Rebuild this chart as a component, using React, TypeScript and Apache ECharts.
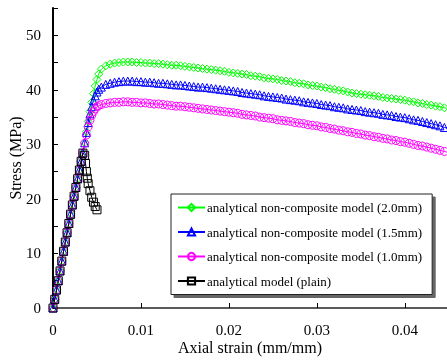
import React, { useEffect, useRef } from "react";
import * as echarts from "echarts";

const seriesNames = [
  "analytical non-composite model (2.0mm)",
  "analytical non-composite model (1.5mm)",
  "analytical non-composite model (1.0mm)",
  "analytical model (plain)",
];

const xTickLabels = ["0", "0.01", "0.02", "0.03", "0.04"];
const yTickLabels = ["0", "10", "20", "30", "40", "50"];

// shared linear rise
const strainRise = [0, 0.0002, 0.0004, 0.0006, 0.0008, 0.001, 0.0012, 0.0014, 0.0016, 0.0018, 0.002, 0.0022, 0.0024, 0.0026, 0.0028, 0.003, 0.0032, 0.0034];
const stressRise = [0, 1.6, 3.3, 5.0, 6.8, 8.6, 10.4, 12.1, 13.8, 15.5, 17.2, 18.9, 20.5, 22.1, 23.7, 25.3, 26.9, 28.4];

// transition toward peak
const strainPeak = [0.0036, 0.0038, 0.004, 0.0042, 0.0044, 0.0046, 0.0048, 0.005, 0.0052];
const stressPeak20 = [30.3, 32.3, 34.2, 36.0, 37.7, 39.3, 40.7, 41.9, 42.9];
const stressPeak15 = [30.3, 32.2, 34.0, 35.6, 36.9, 38.0, 38.9, 39.6, 40.1];
const stressPeak10 = [30.2, 31.7, 33.2, 34.4, 35.3, 36.0, 36.5, 36.9, 37.1];

// post-peak tail
const strainTail = [
  0.0055, 0.006, 0.0065, 0.007, 0.0075, 0.008, 0.0085, 0.009, 0.0095, 0.01,
  0.0105, 0.011, 0.0115, 0.012, 0.0125, 0.013, 0.0135, 0.014, 0.0145, 0.015,
  0.0155, 0.016, 0.0165, 0.017, 0.0175, 0.018, 0.0185, 0.019, 0.0195, 0.02,
  0.0205, 0.021, 0.0215, 0.022, 0.0225, 0.023, 0.0235, 0.024, 0.0245, 0.025,
  0.0255, 0.026, 0.0265, 0.027, 0.0275, 0.028, 0.0285, 0.029, 0.0295, 0.03,
  0.0305, 0.031, 0.0315, 0.032, 0.0325, 0.033, 0.0335, 0.034, 0.0345, 0.035,
  0.0355, 0.036, 0.0365, 0.037, 0.0375, 0.038, 0.0385, 0.039, 0.0395, 0.04,
  0.0405, 0.041, 0.0415, 0.042, 0.0425, 0.043, 0.0435, 0.044, 0.0445, 0.045,
];
const stressTail20 = [
  43.8, 44.4, 44.7, 44.9, 45.0, 45.1, 45.1, 45.1, 45.0, 45.0,
  44.9, 44.9, 44.8, 44.8, 44.7, 44.6, 44.5, 44.5, 44.4, 44.3,
  44.2, 44.1, 44.0, 43.9, 43.8, 43.7, 43.6, 43.5, 43.4, 43.2,
  43.1, 43.0, 42.9, 42.8, 42.6, 42.5, 42.4, 42.2, 42.1, 42.0,
  41.9, 41.7, 41.6, 41.5, 41.3, 41.2, 41.1, 40.9, 40.8, 40.7,
  40.5, 40.4, 40.2, 40.1, 39.9, 39.8, 39.6, 39.4, 39.3, 39.2,
  39.1, 39.0, 38.9, 38.8, 38.6, 38.5, 38.4, 38.3, 38.2, 38.1,
  37.9, 37.8, 37.6, 37.5, 37.3, 37.2, 37.0, 36.9, 36.7, 36.6,
];
const stressTail15 = [
  40.5, 41.0, 41.2, 41.4, 41.5, 41.6, 41.6, 41.6, 41.5, 41.5,
  41.4, 41.4, 41.3, 41.2, 41.2, 41.1, 41.0, 40.9, 40.9, 40.8,
  40.7, 40.6, 40.5, 40.5, 40.4, 40.3, 40.2, 40.1, 40.0, 39.9,
  39.8, 39.7, 39.5, 39.4, 39.3, 39.2, 39.1, 38.9, 38.8, 38.7,
  38.6, 38.5, 38.3, 38.2, 38.1, 38.0, 37.8, 37.7, 37.6, 37.5,
  37.3, 37.2, 37.1, 36.9, 36.8, 36.7, 36.5, 36.4, 36.3, 36.2,
  36.0, 35.9, 35.8, 35.7, 35.5, 35.4, 35.3, 35.1, 35.0, 34.9,
  34.7, 34.5, 34.4, 34.2, 34.0, 33.8, 33.6, 33.4, 33.1, 32.9,
];
const stressTail10 = [
  37.3, 37.5, 37.6, 37.7, 37.7, 37.8, 37.8, 37.7, 37.7, 37.6,
  37.6, 37.5, 37.4, 37.4, 37.3, 37.2, 37.1, 37.0, 37.0, 36.9,
  36.8, 36.7, 36.6, 36.5, 36.4, 36.3, 36.2, 36.1, 36.0, 35.9,
  35.8, 35.7, 35.5, 35.4, 35.3, 35.2, 35.0, 34.9, 34.8, 34.7,
  34.5, 34.4, 34.3, 34.2, 34.0, 33.9, 33.8, 33.6, 33.5, 33.4,
  33.2, 33.1, 32.9, 32.8, 32.6, 32.5, 32.3, 32.2, 32.0, 31.9,
  31.7, 31.6, 31.4, 31.3, 31.1, 31.0, 30.8, 30.7, 30.5, 30.4,
  30.2, 30.0, 29.8, 29.7, 29.5, 29.3, 29.1, 28.9, 28.7, 28.5,
];

// plain model softening branch
const strainPlainDrop = [0.0036, 0.0037, 0.0038, 0.0039, 0.004, 0.0042, 0.0044, 0.0046, 0.0048, 0.005];
const stressPlainDrop = [28.0, 26.5, 25.0, 23.8, 22.8, 21.5, 20.3, 19.4, 18.6, 18.0];

const zip = (xs: number[], ys: number[]) => xs.map((x, i) => [x, ys[i]]);

const FONT = "'Liberation Serif', 'Times New Roman', serif";

export default function App() {
  const ref = useRef<HTMLDivElement>(null);
  useEffect(() => {
    const chart = echarts.init(ref.current!, null, { renderer: "svg" });
    const mk = (name: string, color: string, symbol: string, size: number, data: number[][]) => ({
      name,
      type: "line",
      data,
      symbol,
      symbolSize: size,
      showSymbol: true,
      color,
      lineStyle: { color, width: 1 },
      itemStyle: { color: "rgba(0,0,0,0)", borderColor: color, borderWidth: 1 },
      clip: true,
    });
    const option = {
      animation: false,
      textStyle: { fontFamily: FONT, color: "#000" },
      grid: { left: 53, top: 8, right: 0, bottom: 53, containLabel: false, outerBoundsMode: "none" },
      legend: {
        orient: "vertical",
        left: 171,
        top: 194,
        width: 262,
        padding: [7, 10, 7, 6],
        itemGap: 11.5,
        itemWidth: 27,
        itemHeight: 9,
        backgroundColor: "#fff",
        borderColor: "#222",
        borderWidth: 1,
        shadowColor: "rgba(0,0,0,0.6)",
        shadowBlur: 0,
        shadowOffsetX: 3,
        shadowOffsetY: 3,
        textStyle: { fontFamily: FONT, fontSize: 13, color: "#000", padding: [0, 0, 0, -3] },
        data: seriesNames,
      },
      xAxis: [
        {
          type: "value",
          min: 0,
          max: 0.0448,
          interval: 0.01,
          name: "Axial strain (mm/mm)",
          nameLocation: "middle",
          nameGap: 31,
          nameMoveOverlap: false,
          nameTextStyle: { fontFamily: FONT, fontSize: 16, color: "#000" },
          axisLine: { show: true, onZero: false, lineStyle: { color: "#000", width: 2 } },
          axisTick: { show: true, inside: true, length: 5, lineStyle: { color: "#000", width: 1 } },
          axisLabel: {
            fontFamily: FONT,
            fontSize: 15,
            color: "#000",
            margin: 14,
            showMaxLabel: false,
            formatter: (v: number) => xTickLabels[Math.round(v / 0.01)] ?? "",
          },
          splitLine: { show: false },
        },
        {
          type: "value",
          position: "top",
          min: 0,
          max: 0.0448,
          axisLine: { show: true, lineStyle: { color: "#777", width: 1.5 } },
          axisTick: { show: false },
          axisLabel: { show: false },
          splitLine: { show: false },
        },
      ],
      yAxis: {
        type: "value",
        min: 0,
        max: 55,
        interval: 10,
        name: "Stress (MPa)",
        nameLocation: "middle",
        nameGap: 30,
        nameMoveOverlap: false,
        nameTextStyle: { fontFamily: FONT, fontSize: 16, color: "#000" },
        axisLine: { show: true, onZero: false, lineStyle: { color: "#000", width: 2 } },
        axisTick: { show: true, inside: true, length: 5, lineStyle: { color: "#000", width: 1 } },
        minorTick: { show: true, splitNumber: 2, length: 5, lineStyle: { color: "#000", width: 1 } },
        axisLabel: {
          fontFamily: FONT,
          fontSize: 15,
          color: "#000",
          margin: 12,
          showMaxLabel: false,
          formatter: (v: number) => yTickLabels[Math.round(v / 10)] ?? "",
        },
        splitLine: { show: false },
      },
      series: [
        mk(seriesNames[0], "#00ff00", "diamond", 8, [
          ...zip(strainRise, stressRise),
          ...zip(strainPeak, stressPeak20),
          ...zip(strainTail, stressTail20),
        ]),
        mk(seriesNames[1], "#0000ff", "triangle", 8, [
          ...zip(strainRise, stressRise),
          ...zip(strainPeak, stressPeak15),
          ...zip(strainTail, stressTail15),
        ]),
        mk(seriesNames[2], "#ff00ff", "circle", 8, [
          ...zip(strainRise, stressRise),
          ...zip(strainPeak, stressPeak10),
          ...zip(strainTail, stressTail10),
        ]),
        mk(seriesNames[3], "#000000", "rect", 8, [
          ...zip(strainRise, stressRise),
          ...zip(strainPlainDrop, stressPlainDrop),
        ]),
      ],
    };
    chart.setOption(option as any);
    return () => chart.dispose();
  }, []);
  return <div ref={ref} style={{ position: "fixed", left: 0, top: 0, width: 447, height: 361 }} />;
}
